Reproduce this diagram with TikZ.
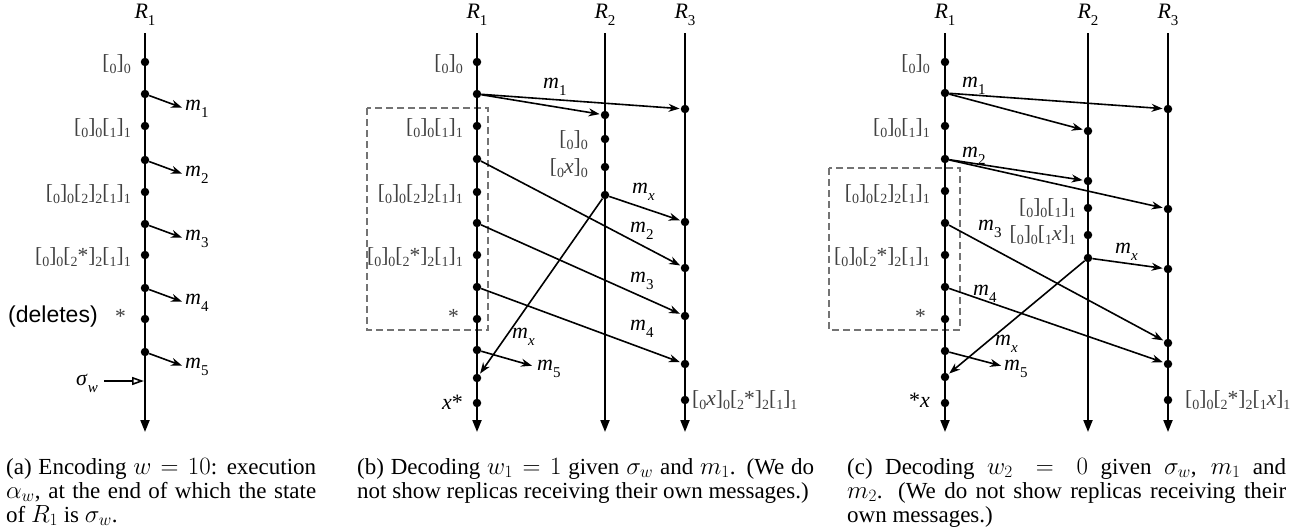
\documentclass[tikz,border=0pt]{standalone}
\usepackage{fontspec}
\setmainfont{Liberation Serif}
\newfontfamily\arialf{Liberation Sans}
\usetikzlibrary{arrows.meta}
\newcommand{\lsb}[1]{\raisebox{-4pt}{\fontsize{14}{14}\selectfont #1}}
\newcommand{\vsb}[1]{\raisebox{-7pt}{\fontsize{15}{15}\selectfont #1}}
\newcommand{\Rn}[1]{\textit{R}\vsb{#1}}
\newcommand{\mn}[1]{\textit{m}\vsb{#1}}
\newcommand{\dfont}{\fontsize{22}{24}\selectfont}
\newcommand{\sfnt}{\fontsize{21.5}{24}\selectfont}
\newcommand{\capfont}{\fontsize{23}{24}\selectfont}
\tikzset{
  tl/.style={line width=2pt, -{Triangle[length=12pt,width=9pt]}},
  dot/.style={circle, fill=black, inner sep=0pt, minimum size=8.5pt},
  msg/.style={line width=1.6pt, -{Stealth[length=11pt,width=8pt,inset=3.5pt]}, shorten >=1pt},
  stl/.style={font=\sfnt, text=black!75, inner sep=0pt, anchor=base east},
  strl/.style={font=\sfnt, text=black!75, inner sep=0pt, anchor=base west},
  ml/.style={font=\dfont, inner sep=0pt, anchor=base west},
  rl/.style={font=\dfont, inner sep=0pt, anchor=base},
  dbox/.style={draw=black!55, line width=1.6pt, dash pattern=on 7pt off 4pt},
  capnode/.style={font=\capfont, inner sep=0pt, anchor=north west, align=justify}
}
\begin{document}
\begin{tikzpicture}[x=1pt,y=-1pt]
\useasboundingbox (0,0) rectangle (1307,531);
% ---------------- (a)
\node[rl] (aR) at (145,18) {\Rn{1}};
\coordinate (atop) at (145,33);
\coordinate (abot) at (145,432);
\draw[tl] (atop) -- (abot);
\foreach \y [count=\i] in {62,94,126,160,192,224,255,288,319,352}
  \node[dot] (a\i) at (145,\y) {};
\foreach \s/\y/\k in {2/94/1,4/160/2,6/224/3,8/288/4,10/352/5}{
  \coordinate (ae\k) at (183,\y+14);
  \draw[msg] (a\s) -- (ae\k);
  \node[ml] (am\k) at (185,\y+16) {\mn{\k}};
}
\node[stl] (as1) at (131,69) {[\lsb{0}]\lsb{0}};
\node[stl] (as3) at (131,133) {[\lsb{0}]\lsb{0}[\lsb{1}]\lsb{1}};
\node[stl] (as5) at (131,199) {[\lsb{0}]\lsb{0}[\lsb{2}]\lsb{2}[\lsb{1}]\lsb{1}};
\node[stl] (as7) at (131,262) {[\lsb{0}]\lsb{0}[\lsb{2}*]\lsb{2}[\lsb{1}]\lsb{1}};
\node[stl] (as9) at (126,323) {*};
\node[font=\arialf\fontsize{23}{24}\selectfont, inner sep=0pt, anchor=base west] (adel) at (8,322) {(deletes)};
\coordinate (asigs) at (104,381);
\coordinate (asige) at (144,381);
\draw[line width=1.6pt, -{Triangle[open,length=12pt,width=8pt]}] (asigs) -- (asige);
\node[ml, anchor=base east] (asig) at (98,385) {\textit{σ}\vsb{\textit{w}}};
% ---------------- (b)
\node[rl] (bR1) at (477,18) {\Rn{1}};
\node[rl] (bR2) at (605,18) {\Rn{2}};
\node[rl] (bR3) at (685,18) {\Rn{3}};
\draw[dbox] (367,108) rectangle (488,330);
\foreach \x/\n in {477/1,605/2,685/3}{
  \coordinate (bt\n) at (\x,33);
  \coordinate (bb\n) at (\x,432);
  \draw[tl] (bt\n) -- (bb\n);
}
\foreach \y [count=\i] in {62,94,126,159,192,223,255,287,319,350,378,403}
  \node[dot] (b\i) at (477,\y) {};
\foreach \y [count=\i] in {115,139,167,195}
  \node[dot] (q\i) at (605,\y) {};
\foreach \y [count=\i] in {109,222,268,316,364,400}
  \node[dot] (r\i) at (685,\y) {};
\coordinate (be5) at (533,366);
\draw[msg] (b2) -- (q1);
\draw[msg] (b2) -- (r1);
\draw[msg] (q4) -- (r2);
\draw[msg] (q4) -- (b11);
\draw[msg] (b4) -- (r3);
\draw[msg] (b6) -- (r4);
\draw[msg] (b8) -- (r5);
\draw[msg] (b10) -- (be5);
\node[ml] (bm1) at (543,88) {\mn{1}};
\node[ml] (bmx) at (632,193) {\mn{\textit{x}}};
\node[ml] (bm2) at (630,232) {\mn{2}};
\node[ml] (bm3) at (630,282) {\mn{3}};
\node[ml] (bm4) at (630,330) {\mn{4}};
\node[ml] (bmx2) at (512,338) {\mn{\textit{x}}};
\node[ml] (bm5) at (537,370) {\mn{5}};
\node[stl] (bs1) at (463,69) {[\lsb{0}]\lsb{0}};
\node[stl] (bs3) at (463,133) {[\lsb{0}]\lsb{0}[\lsb{1}]\lsb{1}};
\node[stl] (bs5) at (463,199) {[\lsb{0}]\lsb{0}[\lsb{2}]\lsb{2}[\lsb{1}]\lsb{1}};
\node[stl] (bs7) at (463,262) {[\lsb{0}]\lsb{0}[\lsb{2}*]\lsb{2}[\lsb{1}]\lsb{1}};
\node[stl] (bs9) at (459,323) {*};
\node[stl, font=\dfont, text=black] (bs12) at (463,409) {\textit{x}*};
\node[stl] (qs2) at (588,145) {[\lsb{0}]\lsb{0}};
\node[stl] (qs3) at (588,173) {[\lsb{0}\textit{x}]\lsb{0}};
\node[strl] (rs6) at (692,405) {[\lsb{0}\textit{x}]\lsb{0}[\lsb{2}*]\lsb{2}[\lsb{1}]\lsb{1}};
% ---------------- (c)
\node[rl] (cR1) at (945,18) {\Rn{1}};
\node[rl] (cR2) at (1088,18) {\Rn{2}};
\node[rl] (cR3) at (1168,18) {\Rn{3}};
\draw[dbox] (829,168) rectangle (960,330);
\foreach \x/\n in {945/1,1088/2,1168/3}{
  \coordinate (ct\n) at (\x,33);
  \coordinate (cb\n) at (\x,432);
  \draw[tl] (ct\n) -- (cb\n);
}
\foreach \y [count=\i] in {62,93,126,159,191,223,255,287,319,351,377,403}
  \node[dot] (c\i) at (945,\y) {};
\foreach \y [count=\i] in {131,181,208,235,258}
  \node[dot] (p\i) at (1088,\y) {};
\foreach \y [count=\i] in {109,209,269,343,364,400}
  \node[dot] (s\i) at (1168,\y) {};
\coordinate (ce5) at (1002,366);
\draw[msg] (c2) -- (s1);
\draw[msg] (c2) -- (p1);
\draw[msg] (c4) -- (p2);
\draw[msg] (c4) -- (s2);
\draw[msg] (c6) -- (s4);
\draw[msg] (c8) -- (s5);
\draw[msg] (p5) -- (s3);
\draw[msg] (p5) -- (c11);
\draw[msg] (c10) -- (ce5);
\node[ml] (cm1) at (962,87) {\mn{1}};
\node[ml] (cm2) at (962,157) {\mn{2}};
\node[ml] (cm3) at (978,230) {\mn{3}};
\node[ml] (cm4) at (973,295) {\mn{4}};
\node[ml] (cmx2) at (995,345) {\mn{\textit{x}}};
\node[ml] (cmx) at (1115,253) {\mn{\textit{x}}};
\node[ml] (cm5) at (1004,370) {\mn{5}};
\node[stl] (cs1) at (930,69) {[\lsb{0}]\lsb{0}};
\node[stl] (cs3) at (930,133) {[\lsb{0}]\lsb{0}[\lsb{1}]\lsb{1}};
\node[stl] (cs5) at (930,199) {[\lsb{0}]\lsb{0}[\lsb{2}]\lsb{2}[\lsb{1}]\lsb{1}};
\node[stl] (cs7) at (930,262) {[\lsb{0}]\lsb{0}[\lsb{2}*]\lsb{2}[\lsb{1}]\lsb{1}};
\node[stl] (cs9) at (926,323) {*};
\node[stl, font=\dfont, text=black] (cs12) at (930,407) {*\textit{x}};
\node[stl] (ps3) at (1076,213) {[\lsb{0}]\lsb{0}[\lsb{1}]\lsb{1}};
\node[stl] (ps4) at (1076,240) {[\lsb{0}]\lsb{0}[\lsb{1}\textit{x}]\lsb{1}};
\node[strl] (ss6) at (1185,405) {[\lsb{0}]\lsb{0}[\lsb{2}*]\lsb{2}[\lsb{1}\textit{x}]\lsb{1}};
% ---------------- captions
\node[capnode, text width=310pt] (capa) at (6,458) {(a) Encoding $w = 10$: execution\linebreak $\alpha_w$, at the end of which the state\linebreak of $R_1$ is $\sigma_w$.};
\node[capnode, text width=457pt] (capb) at (357,458) {(b) Decoding $w_1 = 1$ given $\sigma_w$ and $m_1$. (We do\linebreak not show replicas receiving their own messages.)};
\node[capnode, text width=439pt] (capc) at (847,458) {(c) Decoding $w_2 = 0$ given $\sigma_w$, $m_1$ and\linebreak $m_2$. (We do not show replicas receiving their\linebreak own messages.)};
\end{tikzpicture}
\end{document}
